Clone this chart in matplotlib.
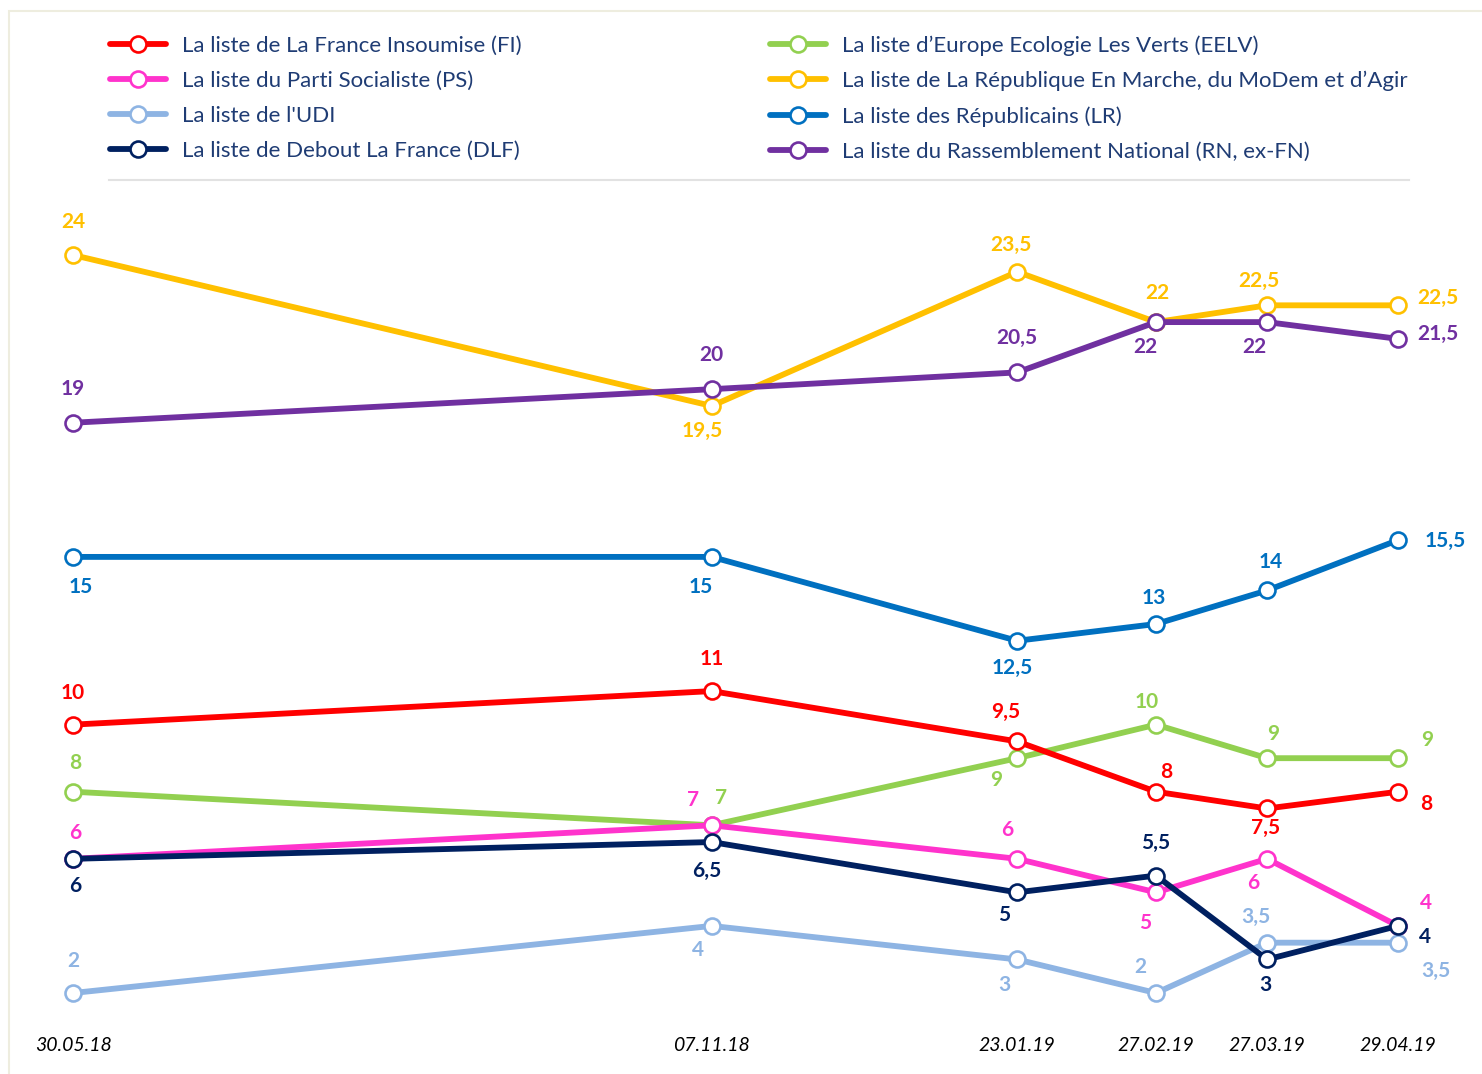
import datetime as dt
import matplotlib
matplotlib.use("Agg")
import matplotlib.pyplot as plt
import matplotlib.dates as mdates
from matplotlib.lines import Line2D
from matplotlib.patches import Rectangle

plt.rcParams['font.family'] = ['Lato', 'DejaVu Sans']

# data
dates = [dt.date(2018, 5, 30), dt.date(2018, 11, 7), dt.date(2019, 1, 23),
         dt.date(2019, 2, 27), dt.date(2019, 3, 27), dt.date(2019, 4, 29)]
date_labels = ['30.05.18', '07.11.18', '23.01.19', '27.02.19', '27.03.19', '29.04.19']

names = ['La liste de La France Insoumise (FI)',
         'La liste du Parti Socialiste (PS)',
         "La liste de l'UDI",
         'La liste de Debout La France (DLF)',
         'La liste d\u2019Europe Ecologie Les Verts (EELV)',
         'La liste de La République En Marche, du MoDem et d\u2019Agir',
         'La liste des Républicains (LR)',
         'La liste du Rassemblement National (RN, ex-FN)']

fi = [10, 11, 9.5, 8, 7.5, 8]
ps = [6, 7, 6, 5, 6, 4]
udi = [2, 4, 3, 2, 3.5, 3.5]
dlf = [6, 6.5, 5, 5.5, 3, 4]
eelv = [8, 7, 9, 10, 9, 9]
lrem = [24, 19.5, 23.5, 22, 22.5, 22.5]
lr = [15, 15, 12.5, 13, 14, 15.5]
rn = [19, 20, 20.5, 22, 22, 21.5]

series = [fi, ps, udi, dlf, eelv, lrem, lr, rn]
colors = ['#ff0000', '#ff33cc', '#8eb4e3', '#002060',
          '#92d050', '#ffc000', '#0070c0', '#7030a0']
zorders = [4, 5, 6, 7, 3, 8, 9, 10]

# label offsets in pixels (dx, dy), per series per point
offsets = [
    [(0, 32), (0, 32), (-11, 29), (10, 20), (-2, -19), (28, -12)],
    [(2, 26), (-19, 25), (-10, 29), (-11, -31), (-14, -24), (28, 23)],
    [(0, 32), (-14, -24), (-13, -26), (-16, 26), (-11, 26), (38, -28)],
    [(2, -27), (-5, -29), (-13, -23), (0, 33), (-2, -26), (27, -11)],
    [(2, 29), (9, 27), (-21, -22), (-9, 23), (6, 24), (29, 18)],
    [(0, 33), (-9, -25), (-6, 27), (1, 29), (-8, 24), (40, 7)],
    [(8, -30), (-11, -30), (-5, -27), (-2, 26), (4, 28), (47, -1)],
    [(0, 34), (0, 34), (0, 34), (-11, -25), (-13, -25), (40, 5)],
]

W, H = 1482, 1074
fig = plt.figure(figsize=(W / 100, H / 100), dpi=100)

# light frame and legend separator
fig.patches.append(Rectangle((9 / W, -0.1), 1.2, 1 - 11 / H + 0.1, transform=fig.transFigure,
                             fill=False, edgecolor='#eeeddf', linewidth=1.5))
fig.add_artist(Line2D([109 / W, 1409 / W], [1 - 180 / H, 1 - 180 / H], transform=fig.transFigure,
                      color='#e2e2e2', linewidth=1.5))

ax_left, ax_right = 20, 1470
ax_top, ax_bot = 200, 1020
ax = fig.add_axes([ax_left / W, 1 - ax_bot / H, (ax_right - ax_left) / W, (ax_bot - ax_top) / H])

xd = mdates.date2num(dates)
px_day = (1398 - 73) / (xd[-1] - xd[0])
ax.set_xlim(xd[0] - (73 - ax_left) / px_day, xd[-1] + (ax_right - 1398) / px_day)
px_unit = (993 - 255) / 22
ax.set_ylim(2 - (ax_bot - 993) / px_unit, 24 + (255 - ax_top) / px_unit)

handles = []
for vals, col, zo, offs, name in zip(series, colors, zorders, offsets, names):
    ln, = ax.plot(xd, vals, color=col, linewidth=4.2, marker='o', markersize=11.5,
                  markerfacecolor='white', markeredgecolor=col, markeredgewidth=1.9,
                  zorder=zo, solid_capstyle='round', label=name)
    handles.append(ln)
    for x, v, (dx, dy) in zip(xd, vals, offs):
        txt = f'{v:g}'.replace('.', ',')
        ax.annotate(txt, (x, v), xytext=(dx, dy), textcoords='offset pixels',
                    ha='center', va='center', color=col, fontsize=15,
                    fontweight='bold', zorder=20)

ax.set_xticks(xd)
ax.set_xticklabels(date_labels, fontsize=14, fontstyle='italic', color='black')
ax.tick_params(axis='x', length=0, pad=12)
ax.set_yticks([])
for s in ax.spines.values():
    s.set_visible(False)
ax.patch.set_alpha(0)

leg = fig.legend(handles=handles, ncol=2, loc='upper left',
                 bbox_to_anchor=(110 / W, 1 - 35 / H), frameon=False,
                 fontsize=16, handlelength=2.5, handletextpad=0.72,
                 columnspacing=11.2, labelspacing=0.68, numpoints=1,
                 borderaxespad=0, borderpad=0)
for t in leg.get_texts():
    t.set_color('#1f3c74')

fig.savefig('out.png', dpi=100)
